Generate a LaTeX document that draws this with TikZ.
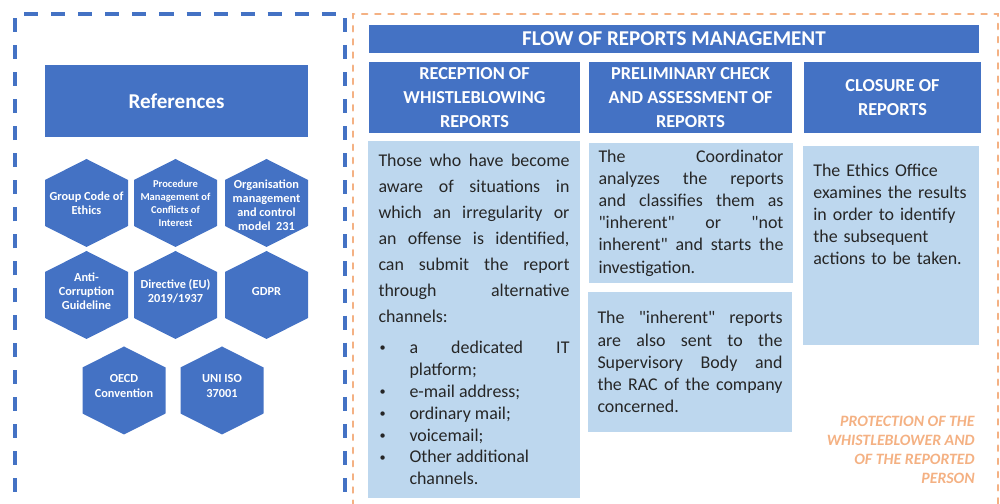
\documentclass[tikz,border=0pt]{standalone}
\usepackage{fontspec}
\setmainfont{Carlito}
\usepackage{xcolor}
\usepackage{tikz}
\definecolor{WBBlue}{HTML}{4472C4}
\definecolor{WBPale}{HTML}{BDD7EE}
\definecolor{WBPeach}{HTML}{F4B183}
\definecolor{WBInk}{HTML}{262626}
\tolerance=9999
\hyphenpenalty=10000

\begin{document}
\begin{tikzpicture}[x=1cm,y=1cm,
  headbox/.style={fill=WBBlue,text=white,align=center,inner sep=0pt,font=\bfseries\fontsize{10.4}{13.7}\selectfont},
  panel/.style={fill=WBPale,text=WBInk,inner sep=0pt,align=justify,font=\fontsize{10.2}{12.6}\selectfont},
  hexlabel/.style={text=white,align=center,inner sep=0pt,font=\bfseries\fontsize{7}{8}\selectfont}]
\path[use as bounding box] (0,0) rectangle (20.00,10.08);
% dashed frames
\draw[WBBlue,line width=2.2pt,dash pattern=on 8pt off 7.4pt] (0.30,-0.30) -- (0.30,9.80) -- (6.90,9.80) -- (6.90,-0.30);
\draw[WBPeach,line width=1.4pt,line cap=round,dash pattern=on 3pt off 4.5pt] (7.06,-0.30) -- (7.06,9.80) -- (19.96,9.80) -- (19.96,-0.30);
% left part
\node[headbox,minimum width=5.26cm,minimum height=1.44cm,font=\bfseries\fontsize{12}{14}\selectfont] (refhead) at (3.53,8.06) {References};
\fill[WBBlue] (1.73,6.02) ++(0,0.88) -- ++(0.83,-0.42) -- ++(0,-0.92) -- ++(-0.83,-0.42) -- ++(-0.83,0.42) -- ++(0,0.92) -- cycle;
\fill[WBBlue] (3.51,6.02) ++(0,0.88) -- ++(0.83,-0.42) -- ++(0,-0.92) -- ++(-0.83,-0.42) -- ++(-0.83,0.42) -- ++(0,0.92) -- cycle;
\fill[WBBlue] (5.33,6.02) ++(0,0.88) -- ++(0.83,-0.42) -- ++(0,-0.92) -- ++(-0.83,-0.42) -- ++(-0.83,0.42) -- ++(0,0.92) -- cycle;
\fill[WBBlue] (1.73,4.18) ++(0,0.88) -- ++(0.83,-0.42) -- ++(0,-0.92) -- ++(-0.83,-0.42) -- ++(-0.83,0.42) -- ++(0,0.92) -- cycle;
\fill[WBBlue] (3.51,4.18) ++(0,0.88) -- ++(0.83,-0.42) -- ++(0,-0.92) -- ++(-0.83,-0.42) -- ++(-0.83,0.42) -- ++(0,0.92) -- cycle;
\fill[WBBlue] (5.33,4.18) ++(0,0.88) -- ++(0.83,-0.42) -- ++(0,-0.92) -- ++(-0.83,-0.42) -- ++(-0.83,0.42) -- ++(0,0.92) -- cycle;
\fill[WBBlue] (2.48,2.27) ++(0,0.88) -- ++(0.83,-0.42) -- ++(0,-0.92) -- ++(-0.83,-0.42) -- ++(-0.83,0.42) -- ++(0,0.92) -- cycle;
\fill[WBBlue] (4.44,2.27) ++(0,0.88) -- ++(0.83,-0.42) -- ++(0,-0.92) -- ++(-0.83,-0.42) -- ++(-0.83,0.42) -- ++(0,0.92) -- cycle;
\node[hexlabel] (refethics) at (1.73,6.02) {Group Code of\\Ethics};
\node[hexlabel,font=\bfseries\fontsize{6}{7.4}\selectfont] (refconflict) at (3.51,6.02) {Procedure\\Management of\\Conflicts of\\Interest};
\node[hexlabel] (refmodel) at (5.33,5.98) {Organisation\\management\\and control\\model~ 231};
\node[hexlabel] (refcorrupt) at (1.73,4.26) {Anti-\\Corruption\\Guideline};
\node[hexlabel] (refdirective) at (3.51,4.26) {Directive (EU)\\2019/1937};
\node[hexlabel] (refgdpr) at (5.33,4.24) {GDPR};
\node[hexlabel] (refoecd) at (2.48,2.36) {OECD\\Convention};
\node[hexlabel] (refiso) at (4.44,2.36) {UNI ISO\\37001};
% right part
\node[headbox,minimum width=12.20cm,minimum height=0.56cm,font=\bfseries\fontsize{12}{14}\selectfont] (flowhead) at (13.48,9.30) {FLOW OF REPORTS MANAGEMENT};
\node[headbox,minimum width=4.22cm,minimum height=1.42cm] (recvhead) at (9.49,8.13) {RECEPTION OF\\WHISTLEBLOWING\\REPORTS};
\node[headbox,minimum width=4.06cm,minimum height=1.42cm] (checkhead) at (13.81,8.13) {PRELIMINARY CHECK\\AND ASSESSMENT OF\\REPORTS};
\node[headbox,minimum width=3.54cm,minimum height=1.42cm] (closehead) at (17.85,8.13) {CLOSURE OF\\REPORTS};
\node[panel,minimum width=4.24cm,minimum height=7.14cm,text width=3.82cm] (recvpanel) at (9.48,3.69)
  {\baselineskip=14.8pt Those who have become\linebreak aware of situations in\linebreak which an irregularity or\linebreak an offense is identified,\linebreak can submit the report\linebreak through alternative\linebreak channels:\par
  \baselineskip=12.5pt\vspace{5pt}
  \hangindent=0.62cm\hangafter=1\noindent\makebox[0.62cm][l]{\hspace{0.02cm}\raisebox{1pt}{\fontsize{7}{7}\selectfont\textbullet}}a dedicated IT\linebreak platform;\par
  \noindent\makebox[0.62cm][l]{\hspace{0.02cm}\raisebox{1pt}{\fontsize{7}{7}\selectfont\textbullet}}e-mail address;\par
  \noindent\makebox[0.62cm][l]{\hspace{0.02cm}\raisebox{1pt}{\fontsize{7}{7}\selectfont\textbullet}}ordinary mail;\par
  \noindent\makebox[0.62cm][l]{\hspace{0.02cm}\raisebox{1pt}{\fontsize{7}{7}\selectfont\textbullet}}voicemail;\par
  \hangindent=0.62cm\hangafter=1\noindent\makebox[0.62cm][l]{\hspace{0.02cm}\raisebox{1pt}{\fontsize{7}{7}\selectfont\textbullet}}Other additional\hfil\break channels.\par};
\node[panel,minimum width=4.08cm,minimum height=2.80cm,text width=3.70cm] (checkpanel) at (13.82,5.82)
  {The Coordinator\linebreak analyzes the reports\linebreak and classifies them as\linebreak \textquotedbl inherent\textquotedbl{} or \textquotedbl not\linebreak inherent\textquotedbl{} and starts the\linebreak investigation.};
\node[panel,minimum width=4.08cm,minimum height=2.80cm,text width=3.70cm] (forwardpanel) at (13.80,2.84)
  {The \textquotedbl inherent\textquotedbl{} reports\linebreak are also sent to the\linebreak Supervisory Body and\linebreak the RAC of the company\linebreak concerned.};
\node[panel,minimum width=3.52cm,minimum height=3.98cm] (closepanel) at (17.82,5.17) {};
\node[panel,align=left,text width=3.20cm,anchor=north west,fill=none,font=\fontsize{10.2}{12.5}\selectfont] (closetext) at (16.26,6.81)
  {The Ethics Office\\examines the results\\in order to identify\\the subsequent\\actions to be taken.};
\node[anchor=east,align=right,text=WBPeach,inner sep=0pt,font=\bfseries\itshape\fontsize{9}{10.8}\selectfont] (protectnote) at (19.50,1.09)
  {PROTECTION OF THE\\WHISTLEBLOWER AND\\OF THE REPORTED\\PERSON};
\end{tikzpicture}
\end{document}
